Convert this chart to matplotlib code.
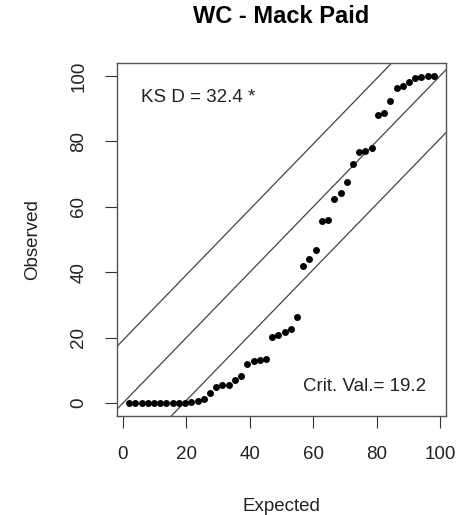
import matplotlib
matplotlib.use("Agg")
import matplotlib.pyplot as plt

# expected percentiles (100*i/51, i = 1..50) and sorted observed percentiles
expected = [1.96, 3.92, 5.88, 7.84, 9.80, 11.76, 13.73, 15.69, 17.65, 19.61,
            21.57, 23.53, 25.49, 27.45, 29.41, 31.37, 33.33, 35.29, 37.25, 39.22,
            41.18, 43.14, 45.10, 47.06, 49.02, 50.98, 52.94, 54.90, 56.86, 58.82,
            60.78, 62.75, 64.71, 66.67, 68.63, 70.59, 72.55, 74.51, 76.47, 78.43,
            80.39, 82.35, 84.31, 86.27, 88.24, 90.20, 92.16, 94.12, 96.08, 98.04]
observed = [0.0, 0.0, 0.0, 0.0, 0.0, 0.0, 0.0, 0.0, 0.0, 0.1,
            0.2, 0.5, 1.2, 3.0, 4.8, 5.5, 5.6, 7.0, 8.2, 11.9,
            12.7, 13.3, 13.6, 20.2, 20.9, 21.6, 22.5, 26.3, 41.9, 43.9,
            46.9, 55.8, 55.9, 62.4, 64.2, 67.5, 73.1, 76.6, 77.0, 78.0,
            88.1, 88.8, 92.4, 96.4, 97.0, 98.2, 99.5, 99.8, 100.0, 100.0]
ks_d = 32.4
crit = 19.2
ticks = [0, 20, 40, 60, 80, 100]

plt.rcParams['font.family'] = ['Liberation Sans', 'DejaVu Sans']

fig = plt.figure(figsize=(4.57, 5.15), dpi=100)
ax = fig.add_axes([0.256, 0.192, 0.720, 0.686])

# band lines: y = x, y = x +/- critical value
xx = [-10, 110]
ax.plot(xx, [v for v in xx], color='#444444', lw=0.9)
ax.plot(xx, [v + crit for v in xx], color='#444444', lw=0.9)
ax.plot(xx, [v - crit for v in xx], color='#444444', lw=0.9)

ax.plot(expected, observed, 'o', color='black', ms=5, mec='black', mew=0)

ax.set_xlim(-1.88, 101.88)
ax.set_ylim(-4, 104)
ax.set_xticks(ticks)
ax.set_yticks(ticks)
ax.tick_params(direction='out', length=8.5, width=0.8, labelsize=13.5,
               pad=13, color='#333333', labelcolor='#222222')
for lab in ax.get_yticklabels():
    lab.set_rotation(90)
    lab.set_va('center')
for sp in ax.spines.values():
    sp.set_color('#555555')
    sp.set_linewidth(1.0)

ax.text(5.6, 93.3, "KS D = %.1f *" % ks_d, ha='left', va='center', fontsize=13.5, color='#222222')
ax.text(95.7, 5.0, "Crit. Val.= %.1f" % crit, ha='right', va='center', fontsize=13.5, color='#222222')

ax.set_xlabel("Expected", fontsize=13.5, labelpad=25, color='#222222')
ax.set_ylabel("Observed", fontsize=13.5, labelpad=21, color='#222222')
ax.set_title("WC - Mack Paid", fontsize=17, fontweight='bold', pad=29)

fig.savefig("out.png", dpi=100)
